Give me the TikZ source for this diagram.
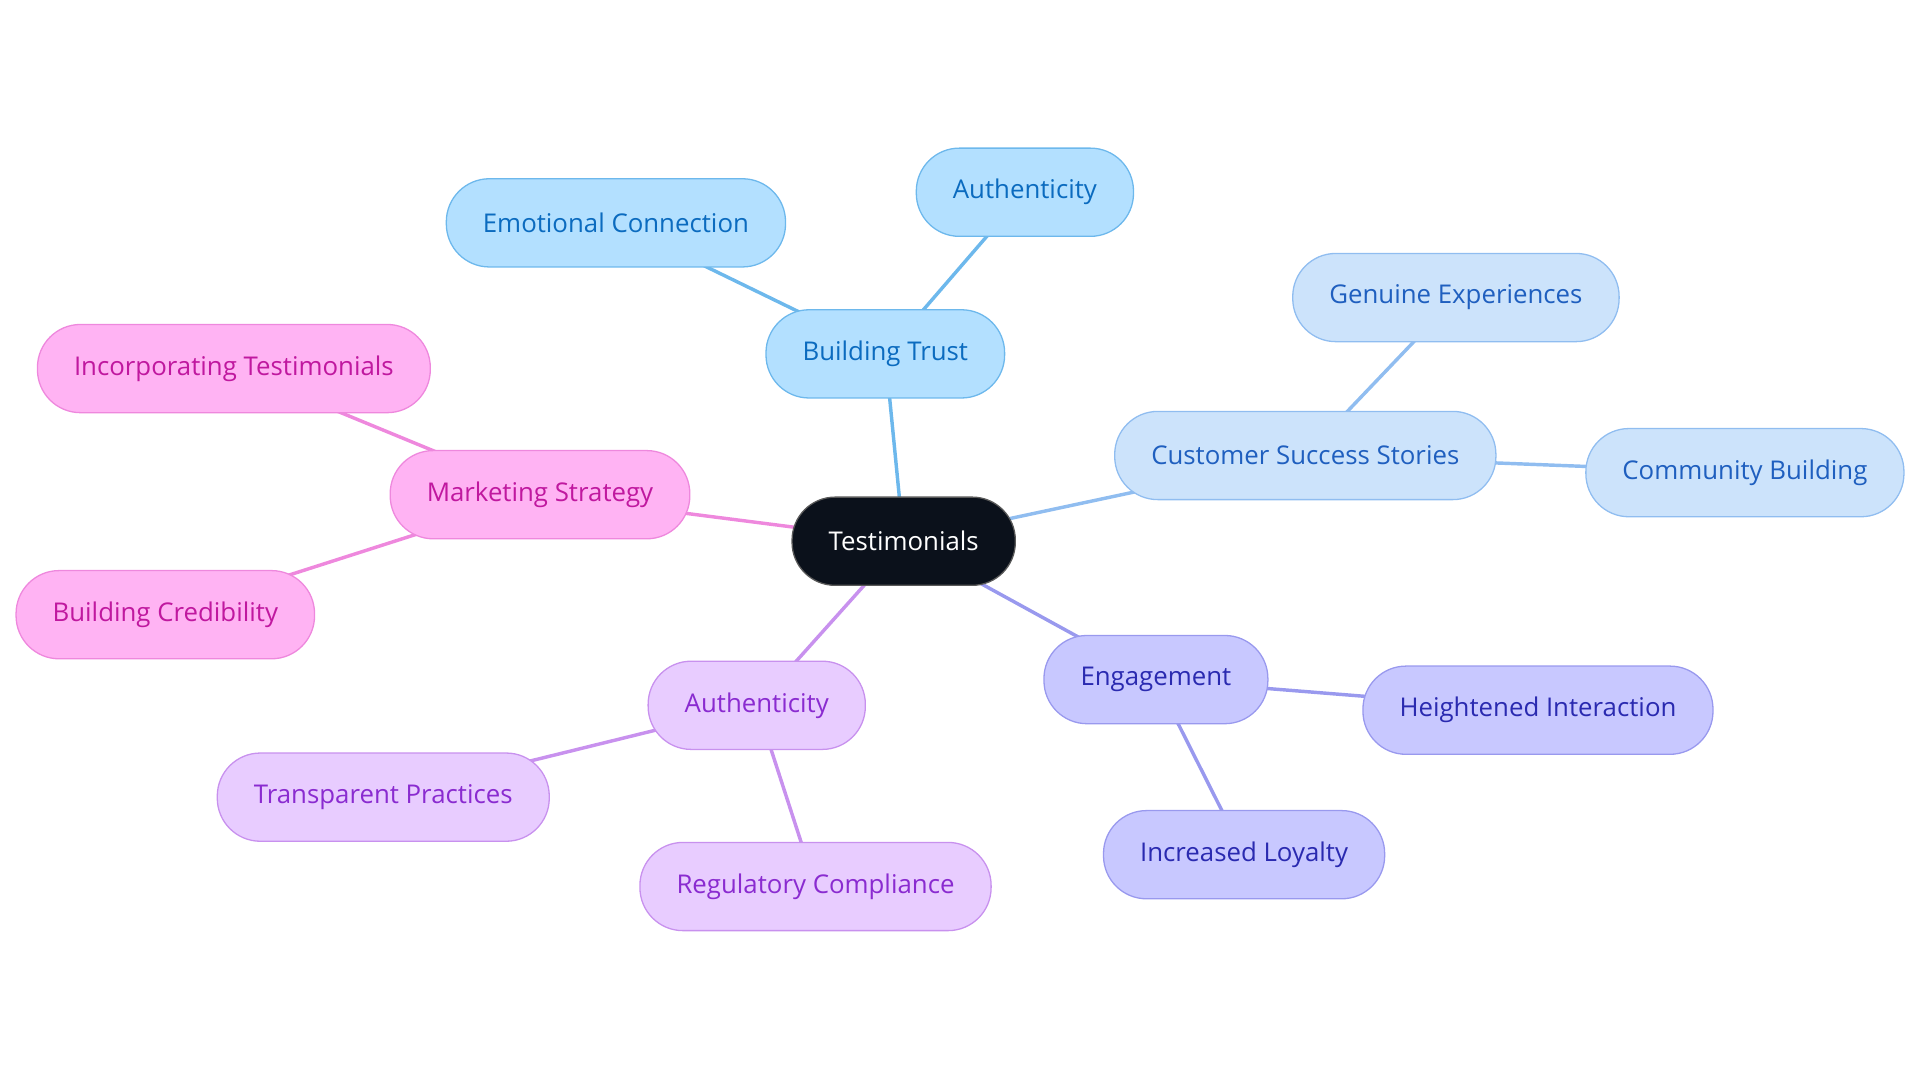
\documentclass[tikz,border=0pt]{standalone}
\usepackage{fontspec}
\setmainfont{Open Sans}
\usetikzlibrary{positioning,backgrounds}
\definecolor{rootfill}{HTML}{0B111B}
\definecolor{trustfill}{HTML}{B3E0FF}\definecolor{trustdraw}{HTML}{6DB8EC}\definecolor{trusttext}{HTML}{0B6BBF}
\definecolor{storyfill}{HTML}{CCE3FB}\definecolor{storydraw}{HTML}{90BDF0}\definecolor{storytext}{HTML}{1F5FBF}
\definecolor{engfill}{HTML}{C8C8FF}\definecolor{engdraw}{HTML}{9999EE}\definecolor{engtext}{HTML}{2A2AB0}
\definecolor{authfill}{HTML}{E8CCFF}\definecolor{authdraw}{HTML}{C891EE}\definecolor{authtext}{HTML}{8A2BD0}
\definecolor{mktfill}{HTML}{FFB3F3}\definecolor{mktdraw}{HTML}{EE88DD}\definecolor{mkttext}{HTML}{C0189F}
\tikzset{
  topic/.style={rounded corners=20pt,minimum height=41pt,inner xsep=17pt,
    font=\fontsize{12}{14}\selectfont,line width=0.6pt},
  trust/.style={topic,fill=trustfill,draw=trustdraw,text=trusttext},
  story/.style={topic,fill=storyfill,draw=storydraw,text=storytext},
  eng/.style={topic,fill=engfill,draw=engdraw,text=engtext},
  auth/.style={topic,fill=authfill,draw=authdraw,text=authtext},
  mkt/.style={topic,fill=mktfill,draw=mktdraw,text=mkttext},
  link/.style={line width=1.6pt},
}
\begin{document}
\begin{tikzpicture}[x=0.02cm,y=-0.02cm]
  \useasboundingbox (0,0) rectangle (1568,884);
  % central node
  \node[topic,fill=rootfill,draw=gray!70!black,text=white] (root) at (738,442) {Testimonials};
  % branches
  \node[trust] (trust) at (723,289) {Building Trust};
  \node[trust] (emo) at (503,182) {Emotional Connection};
  \node[trust] (auth1) at (837,157) {Authenticity};
  \node[story] (story) at (1066,372) {Customer Success Stories};
  \node[story] (genuine) at (1189,243) {Genuine Experiences};
  \node[story] (community) at (1425,386) {Community Building};
  \node[eng] (eng) at (944,555) {Engagement};
  \node[eng] (inter) at (1256,580) {Heightened Interaction};
  \node[eng] (loyal) at (1016,698) {Increased Loyalty};
  \node[auth] (auth2) at (618,576) {Authenticity};
  \node[auth] (transp) at (313,651) {Transparent Practices};
  \node[auth] (regul) at (666,724) {Regulatory Compliance};
  \node[mkt] (mkt) at (441,404) {Marketing Strategy};
  \node[mkt] (incorp) at (191,301) {Incorporating Testimonials};
  \node[mkt] (cred) at (135,502) {Building Credibility};
  % connectors
  \begin{scope}[on background layer]
    \draw[link,trustdraw] (root.center) -- (trust.center) (trust.center) -- (emo.center)
      (trust.center) -- (auth1.center);
    \draw[link,storydraw] (root.center) -- (story.center) (story.center) -- (genuine.center)
      (story.center) -- (community.center);
    \draw[link,engdraw] (root.center) -- (eng.center) (eng.center) -- (inter.center)
      (eng.center) -- (loyal.center);
    \draw[link,authdraw] (root.center) -- (auth2.center) (auth2.center) -- (transp.center)
      (auth2.center) -- (regul.center);
    \draw[link,mktdraw] (root.center) -- (mkt.center) (mkt.center) -- (incorp.center)
      (mkt.center) -- (cred.center);
  \end{scope}
\end{tikzpicture}
\end{document}
